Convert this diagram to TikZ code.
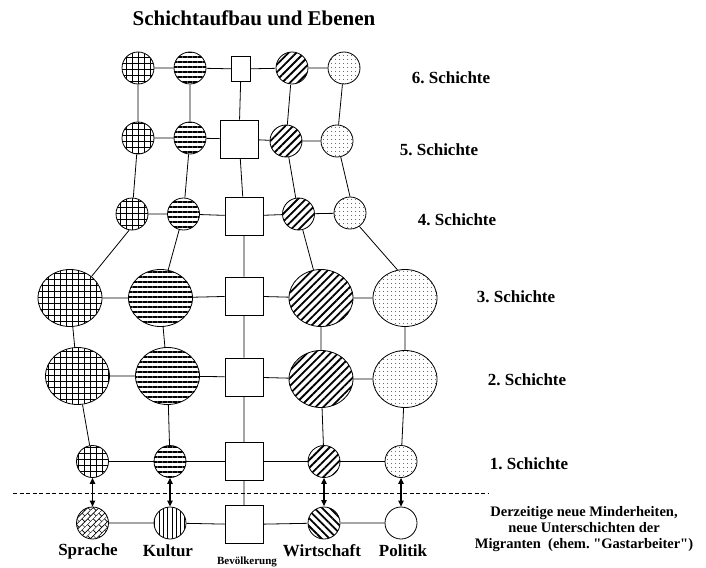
\documentclass[tikz,border=0pt]{standalone}
\usepackage{fontspec}
\setmainfont{Liberation Serif}[BoldFont={Liberation Serif Bold},Ligatures=TeXOff]
\usetikzlibrary{shapes.geometric,patterns.meta,arrows.meta}
\frenchspacing
\pgfdeclarepattern{
  name=diagbricks,
  type=uncolored,
  bottom left={\pgfpoint{-.1pt}{-.1pt}},
  top right={\pgfpoint{8.1pt}{8.1pt}},
  tile size={\pgfpoint{8pt}{8pt}},
  tile transformation={\pgftransformrotate{45}},
  code={
    \pgfsetlinewidth{0.7pt}
    \pgfpathmoveto{\pgfpoint{0pt}{0pt}}\pgfpathlineto{\pgfpoint{8pt}{0pt}}
    \pgfpathmoveto{\pgfpoint{0pt}{4pt}}\pgfpathlineto{\pgfpoint{8pt}{4pt}}
    \pgfpathmoveto{\pgfpoint{0pt}{0pt}}\pgfpathlineto{\pgfpoint{0pt}{4pt}}
    \pgfpathmoveto{\pgfpoint{4pt}{4pt}}\pgfpathlineto{\pgfpoint{4pt}{8pt}}
    \pgfusepath{stroke}
  }
}
\begin{document}
\begin{tikzpicture}[x=1pt,y=-1pt,
  base/.style={draw, line width=0.8pt, inner sep=0pt},
  sc/.style={base, circle, minimum size=32pt},
  bc/.style={base, ellipse, minimum width=64pt, minimum height=57pt},
  sqbox/.style={base, rectangle, minimum size=38pt},
  patS/.style={pattern={Hatch[angle=0,distance=6pt,line width=0.9pt]}},
  patK/.style={pattern={Lines[angle=0,distance=5pt,line width=1.1pt]}},
  patW/.style={pattern={Lines[angle=45,distance=5.5pt,line width=1.8pt]}},
  patP/.style={pattern={Dots[radius=0.55pt,distance=4pt]}},
  conn/.style={line width=0.8pt},
  dbl/.style={line width=1.1pt, {Triangle[length=6pt,width=5.5pt]}-{Triangle[length=6pt,width=5.5pt]}},
  lab/.style={font=\bfseries\fontsize{17}{20}\selectfont},
  title/.style={font=\bfseries\fontsize{21}{24}\selectfont},
  note/.style={font=\bfseries\fontsize{14.5}{16}\selectfont, align=center},
  small/.style={font=\bfseries\fontsize{11}{13}\selectfont}
]
\useasboundingbox (0,0) rectangle (706,567);

\node[title] (title) at (254,18) {Schichtaufbau und Ebenen};

% row 6
\node[sc,patS] (a6) at (138,68) {};
\node[sc,patK] (b6) at (190,68) {};
\node[base,rectangle,minimum width=19pt,minimum height=25pt] (c6) at (241,69) {};
\node[sc,patW] (d6) at (292,68) {};
\node[sc,patP] (e6) at (344,68) {};
% row 5
\node[sc,patS] (a5) at (138,138) {};
\node[sc,patK] (b5) at (190,138) {};
\node[sqbox] (c5) at (239,139) {};
\node[sc,patW] (d5) at (286,141) {};
\node[sc,patP] (e5) at (337,141) {};
% row 4
\node[sc,patS] (a4) at (132,214) {};
\node[sc,patK] (b4) at (183.5,214) {};
\node[sqbox] (c4) at (244,216) {};
\node[sc,patW] (d4) at (298.5,214) {};
\node[sc,patP] (e4) at (350,213) {};
% row 3
\node[bc,patS] (a3) at (70,298) {};
\node[bc,patK] (b3) at (160.5,298) {};
\node[sqbox] (c3) at (244,296) {};
\node[bc,patW] (d3) at (321,298) {};
\node[bc,patP] (e3) at (405,298) {};
% row 2
\node[bc,patS] (a2) at (77.5,376) {};
\node[bc,patK] (b2) at (167.5,376) {};
\node[sqbox] (c2) at (244,377) {};
\node[bc,patW] (d2) at (321,379) {};
\node[bc,patP] (e2) at (405,379) {};
% row 1
\node[sc,patS] (a1) at (92.5,461.5) {};
\node[sc,patK] (b1) at (170,461.5) {};
\node[sqbox] (c1) at (244,461.5) {};
\node[sc,patW] (d1) at (324,461.5) {};
\node[sc,patP] (e1) at (401,461.5) {};
% bottom row
\node[sc,pattern=diagbricks] (a0) at (92.5,523) {};
\node[sc,pattern={Lines[angle=90,distance=4.3pt,line width=0.9pt]}] (b0) at (170,523) {};
\node[sqbox] (c0) at (244,524.5) {};
\node[sc,pattern={Lines[angle=-45,distance=5.5pt,line width=1.8pt]}] (d0) at (324,523) {};
\node[sc] (e0) at (401,523) {};

% horizontal connectors
\foreach \r in {6,5,4,3,2,1,0}{
  \draw[conn] (a\r) -- (b\r) -- (c\r) -- (d\r) -- (e\r);
}
% vertical connectors
\draw[conn] (a6) -- (a5) -- (a4);
\draw[conn] (a4.-100) -- (a3.45);
\draw[conn] (a3) -- (a2) -- (a1);
\draw[conn] (b6) -- (b5) -- (b4) -- (b3) -- (b2) -- (b1);
\draw[conn] (c6) -- (c5) -- (c4) -- (c3) -- (c2) -- (c1) -- (c0);
\draw[conn] (d6) -- (d5) -- (d4) -- (d3) -- (d2) -- (d1);
\draw[conn] (e6) -- (e5) -- (e4.north);
\draw[conn] (e4.-55) -- (e3.105);
\draw[conn] (e3) -- (e2) -- (e1);

% dashed separator
\coordinate (dl) at (13,493);
\coordinate (dr) at (488,493);
\draw[line width=0.6pt, dash pattern=on 4pt off 2.5pt] (dl) -- (dr);

% double arrows
\draw[dbl] (a1) -- (a0);
\draw[dbl] (b1) -- (b0);
\draw[dbl] (d1) -- (d0);
\draw[dbl] (e1) -- (e0);

% layer labels
\node[lab] (l6) at (451,78) {6. Schichte};
\node[lab] (l5) at (439,150) {5. Schichte};
\node[lab] (l4) at (457,220) {4. Schichte};
\node[lab] (l3) at (516,297) {3. Schichte};
\node[lab] (l2) at (527,380) {2. Schichte};
\node[lab] (l1) at (529,464) {1. Schichte};

% bottom labels
\node[lab] (ls) at (88,551) {Sprache};
\node[lab] (lk) at (168,551) {Kultur};
\node[small] (lb) at (247,562) {Bevölkerung};
\node[lab] (lw) at (322,551) {Wirtschaft};
\node[lab] (lp) at (403,551) {Politik};

\node[note] (mig) at (584,529) {Derzeitige neue Minderheiten,\\neue Unterschichten der\\Migranten\ \ (ehem. "Gastarbeiter")};
\end{tikzpicture}
\end{document}
